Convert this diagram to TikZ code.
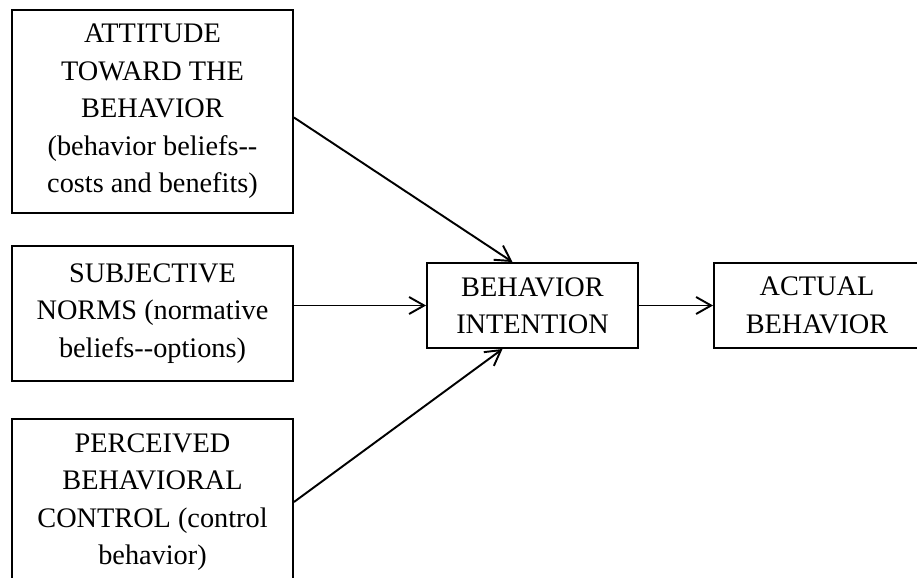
\documentclass[tikz,border=0pt]{standalone}
\usepackage{fontspec}
\setmainfont{Liberation Serif}
\usetikzlibrary{arrows.meta}

\begin{document}
\begin{tikzpicture}[>={Straight Barb[length=3mm,width=3.4mm]}, line width=1.1pt,
    factor/.style={draw, align=center, inner sep=0pt,
        font=\fontsize{16.1}{21.3}\selectfont}]
\useasboundingbox (0,0) rectangle (18.34,11.54);

\node[factor, minimum width=5.62cm, minimum height=4.06cm] (att) at (3.05,9.31)
    {ATTITUDE\\TOWARD THE\\BEHAVIOR\\(behavior beliefs-\kern0pt-\\costs and benefits)};
\node[factor, minimum width=5.62cm, minimum height=2.7cm] (norms) at (3.05,5.27)
    {SUBJECTIVE\\NORMS (normative\\beliefs-\kern0pt-options)};
\node[factor, minimum width=5.62cm, minimum height=3.32cm] (pbc) at (3.05,1.5)
    {PERCEIVED\\BEHAVIORAL\\CONTROL (control\\behavior)};

\node[factor, minimum width=4.22cm, minimum height=1.7cm] (bi) at (10.65,5.43)
    {BEHAVIOR\\INTENTION};
\node[factor, minimum width=4.12cm, minimum height=1.7cm] (act) at (16.34,5.43)
    {ACTUAL\\BEHAVIOR};

\draw[->] ([yshift=-0.12cm]att.east) -- ([xshift=-0.4cm]bi.north);
\draw[->] (norms.east |- bi.west) -- (bi.west);
\draw[->] (pbc.east) -- ([xshift=-0.6cm]bi.south);
\draw[->] (bi) -- (act);

\end{tikzpicture}
\end{document}
